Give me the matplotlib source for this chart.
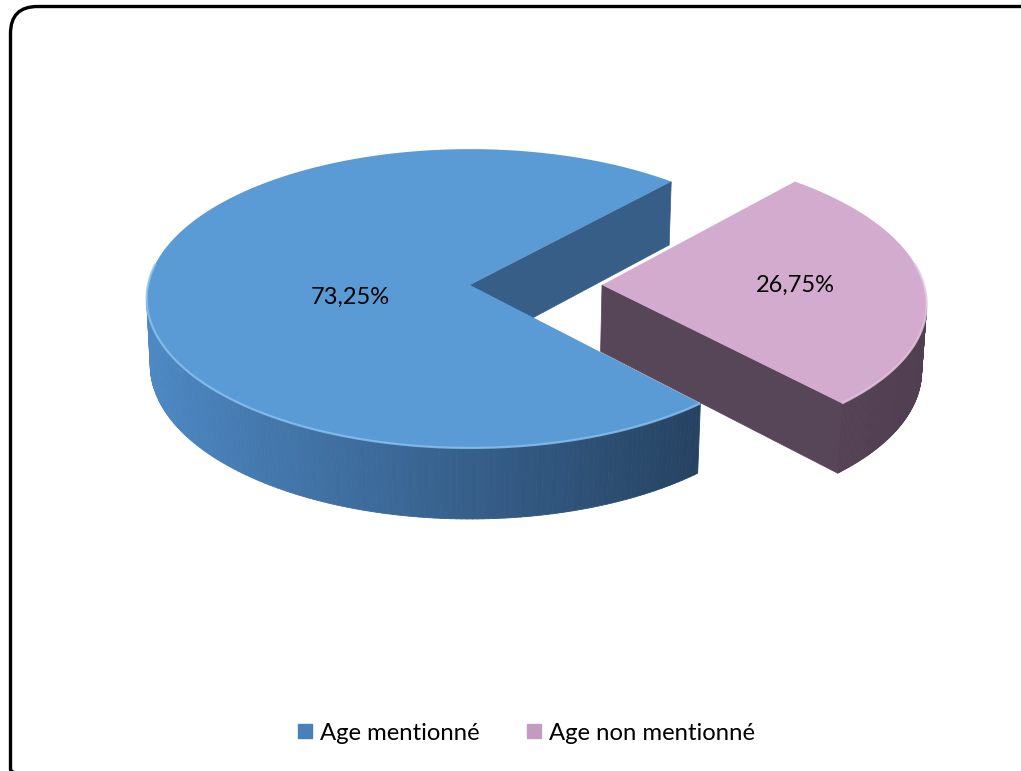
import numpy as np
import matplotlib
matplotlib.use('Agg')
import matplotlib.pyplot as plt
from matplotlib.patches import Polygon, FancyBboxPatch
from matplotlib.collections import PolyCollection
from matplotlib.lines import Line2D

plt.rcParams['font.family'] = ['Lato', 'DejaVu Sans']

# données
labels = ['Age mentionné', 'Age non mentionné']
values = [73.25, 26.75]
pct_text = ['73,25%', '26,75%']
explode = [0.0, 0.41]

# couleurs : dessus, flanc clair/sombre, face de coupe
top_colors = ['#5B9BD5', '#D3ABCE']
side_light = [(78, 138, 198), (104, 84, 104)]
side_dark = [(30, 52, 78), (80, 63, 80)]
cut_colors = ['#375E86', '#574657']
rim_colors = ['#8CC3F2', '#E6C8E2']
legend_colors = ['#4A80B8', '#C49BC0']

# position des étiquettes (rayon, angle) relative au centre de la part
label_pos = [(0.38, 193), (0.6, 0)]

# camembert 3D en perspective
R = 1.0
H = 0.235
elev = np.radians(27.4)
D = 9.8
scale = 322
cx, cy = 470, 285
cam = np.array([0.0, -D * np.cos(elev), D * np.sin(elev)])


def proj(X, Y, Z):
    zc = D + Y * np.cos(elev) - Z * np.sin(elev)
    u = X * scale * D / zc
    v = (Y * np.sin(elev) + Z * np.cos(elev)) * scale * D / zc
    return cx + u, cy - v


def rgb(c):
    return tuple(np.array(c) / 255.0)


fig = plt.figure(figsize=(10.21, 7.71), dpi=100)
ax = fig.add_axes([0, 0, 1, 1])
ax.set_xlim(0, 1021)
ax.set_ylim(771, 0)
ax.axis('off')

total = sum(values)
spans = [360.0 * v / total for v in values]
start = spans[1] / 2

angles = []
a = start
for s in spans:
    angles.append((a, a + s))
    a += s

for i, (a0, a1) in enumerate(angles):
    mid = np.radians((a0 + a1) / 2)
    ox, oy = explode[i] * np.cos(mid), explode[i] * np.sin(mid)
    th = np.radians(np.linspace(a0, a1, 300))
    X = ox + R * np.cos(th)
    Y = oy + R * np.sin(th)

    # faces de coupe
    for ang, sign in ((a0, -1), (a1, 1)):
        t = np.radians(ang)
        n = np.array([np.cos(t + sign * np.pi / 2), np.sin(t + sign * np.pi / 2), 0])
        p = np.array([ox, oy, 0])
        if np.dot(n, cam - p) > 0:
            rx, ry = ox + R * np.cos(t), oy + R * np.sin(t)
            pts = [proj(ox, oy, 0), proj(rx, ry, 0), proj(rx, ry, -H), proj(ox, oy, -H)]
            ax.add_patch(Polygon(pts, closed=True, facecolor=cut_colors[i],
                                 edgecolor=cut_colors[i], lw=0.5))

    # flanc extérieur
    quads, cols = [], []
    for k in range(len(th) - 1):
        tm = (th[k] + th[k + 1]) / 2
        n = np.array([np.cos(tm), np.sin(tm), 0])
        p = np.array([ox + R * np.cos(tm), oy + R * np.sin(tm), -H / 2])
        if np.dot(n, cam - p) <= 0:
            continue
        q = [proj(X[k], Y[k], 0), proj(X[k + 1], Y[k + 1], 0),
             proj(X[k + 1], Y[k + 1], -H), proj(X[k], Y[k], -H)]
        quads.append(q)
        f = (1 + np.cos(tm)) / 2
        c = (1 - f) * np.array(side_light[i]) + f * np.array(side_dark[i])
        cols.append(rgb(c))
    if quads:
        ax.add_collection(PolyCollection(quads, facecolors=cols, edgecolors=cols, linewidths=0.6))

    # dessus
    px, py = proj(X, Y, 0 * X)
    cpx, cpy = proj(ox, oy, 0)
    top = np.column_stack([np.r_[cpx, px], np.r_[cpy, py]])
    ax.add_patch(Polygon(top, closed=True, facecolor=top_colors[i], edgecolor='none'))

    # liseré clair sur le bord avant
    vis = np.sin(th) < 0.15
    ax.plot(np.where(vis, px, np.nan), np.where(vis, py, np.nan),
            color=rim_colors[i], lw=1.6, alpha=0.8, solid_capstyle='butt')

    # étiquette
    lr, la = label_pos[i]
    lx = ox + lr * np.cos(np.radians(la))
    ly = oy + lr * np.sin(np.radians(la))
    tx, ty = proj(lx, ly, 0)
    ax.text(tx, ty, pct_text[i], ha='center', va='center', fontsize=17, color='black')

# cadre arrondi
ax.add_patch(FancyBboxPatch((10.5, 6.5), 1040, 790,
                            boxstyle='round,pad=0,rounding_size=27',
                            facecolor='none', edgecolor='black', lw=2.4))

handles = [Line2D([], [], marker='s', linestyle='', markersize=10,
                  markerfacecolor=c, markeredgecolor=c) for c in legend_colors]
fig.legend(handles, labels, loc='center', bbox_to_anchor=(0.515, 1 - 733 / 771),
           ncol=2, frameon=False, fontsize=17.2, handlelength=0.7,
           handletextpad=0.3, columnspacing=1.9)

fig.savefig('out.png', dpi=100)
